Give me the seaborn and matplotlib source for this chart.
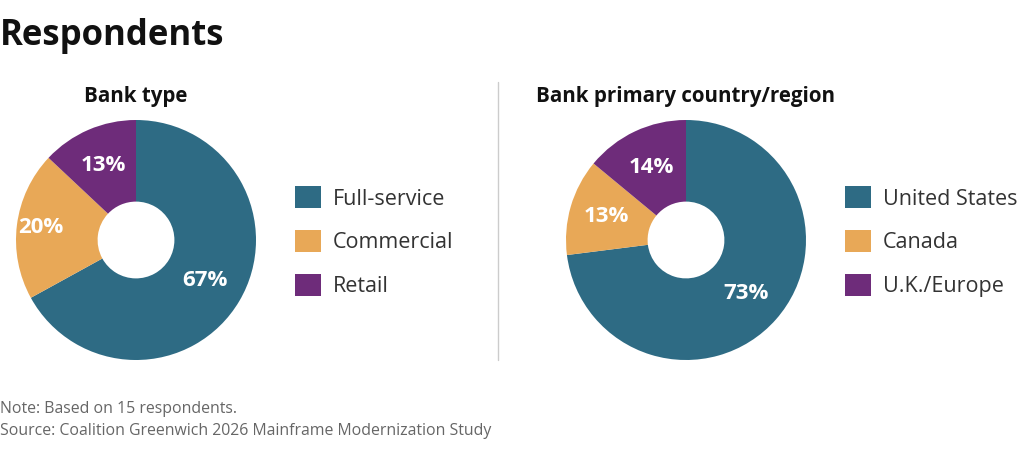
import matplotlib
matplotlib.use("Agg")
import matplotlib.pyplot as plt
import numpy as np
import seaborn as sns

sns.set_theme(style="white")
plt.rcParams['font.family'] = ['Open Sans', 'DejaVu Sans']

# data
bank_types = ["Full-service", "Commercial", "Retail"]
bank_type_pct = [67, 20, 13]
regions = ["United States", "Canada", "U.K./Europe"]
region_pct = [73, 13, 14]

colors = ["#2E6B84", "#E8A857", "#6E2C7A"]
label_r_left = [0.67, 0.80, 0.68]
label_r_right = [0.67, 0.69, 0.67]

fig = plt.figure(figsize=(10.24, 4.59), dpi=100)
W, H = 1024, 459


def px_axes(x0, y0, x1, y1):
    return fig.add_axes([x0 / W, 1 - y1 / H, (x1 - x0) / W, (y1 - y0) / H])


def donut(ax, values, labels, label_r, title, legend_x):
    wedges, _ = ax.pie(values, colors=colors, startangle=90, counterclock=False,
                       radius=1, wedgeprops=dict(width=0.68, edgecolor="none"))
    for w, v, r in zip(wedges, values, label_r):
        ang = np.deg2rad((w.theta1 + w.theta2) / 2)
        ax.text(r * np.cos(ang), r * np.sin(ang), f"{v}%", color="white",
                fontsize=16, fontweight="bold", ha="center", va="center")
    ax.set_xlim(-1, 1)
    ax.set_ylim(-1, 1)
    ax.set_title(title, fontsize=14.8, fontweight="bold", pad=13, color="#111111")
    leg = ax.legend(wedges, labels, loc="center left",
                    bbox_to_anchor=(legend_x, 0.493), frameon=False,
                    fontsize=15.5, handlelength=1.2, handleheight=1.2,
                    labelspacing=0.95, handletextpad=0.55, borderaxespad=0,
                    borderpad=0)
    for t in leg.get_texts():
        t.set_color("#333333")


ax1 = px_axes(16, 120, 256, 360)
donut(ax1, bank_type_pct, bank_types, label_r_left, "Bank type", 1.1625)
ax2 = px_axes(566, 120, 806, 360)
donut(ax2, region_pct, regions, label_r_right, "Bank primary country/region", 1.1625)

# divider
fig.add_artist(plt.Line2D([498 / W, 498 / W], [1 - 82 / H, 1 - 360 / H],
                          color="#cccccc", lw=1))

fig.text(0, 1 - 36 / H, "Respondents", fontsize=25, fontweight="bold",
         color="#111111", va="center", ha="left")
fig.text(0, 1 - 409 / H, "Note: Based on 15 respondents.", fontsize=11.4,
         color="#666666", va="center")
fig.text(0, 1 - 431 / H, "Source: Coalition Greenwich 2026 Mainframe Modernization Study",
         fontsize=11.4, color="#666666", va="center")

fig.savefig("out.png", dpi=100, facecolor="white")
